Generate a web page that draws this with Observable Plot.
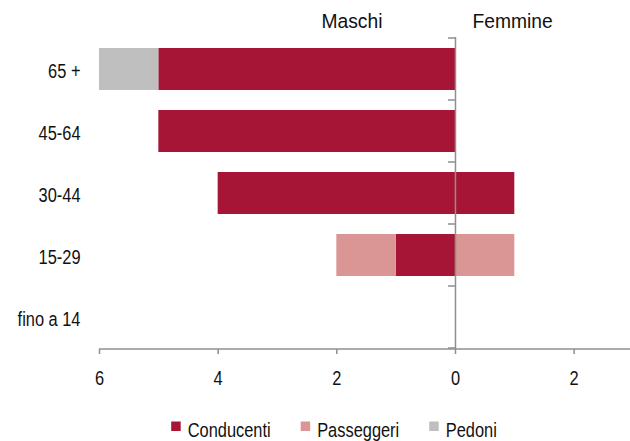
<!DOCTYPE html>
<html><head><meta charset="utf-8">
<script src="https://cdn.jsdelivr.net/npm/d3@7"></script>
<script src="https://cdn.jsdelivr.net/npm/@observablehq/plot@0.6"></script>
<style>
body{margin:0;background:#fff;font-family:"Liberation Sans",Arial,sans-serif;color:#111;}
svg{display:block;}
</style></head><body><div id="chart"></div><div id="legend"></div>
<script>
const categorie = ["65 +", "45-64", "30-44", "15-29", "fino a 14"];
const tipi = ["Conducenti", "Passeggeri", "Pedoni"];
const colori = ["#A61535", "#DA9694", "#BFBFBF"];
const maschiConducenti = [5, 5, 4, 1, 0];
const maschiPasseggeri = [0, 0, 0, 1, 0];
const maschiPedoni = [1, 0, 0, 0, 0];
const femmineConducenti = [0, 0, 1, 0, 0];
const femminePasseggeri = [0, 0, 0, 1, 0];
const femminePedoni = [0, 0, 0, 0, 0];
const xTicks = [-6, -4, -2, 0, 2];
const intestazioni = ["Maschi", "Femmine"];

const maschi = [maschiConducenti, maschiPasseggeri, maschiPedoni];
const femmine = [femmineConducenti, femminePasseggeri, femminePedoni];
const rows = [];
categorie.forEach((c, i) => {
  tipi.forEach((t, j) => {
    rows.push({eta: c, sesso: "Maschi", tipo: t, v: -maschi[j][i]});
    rows.push({eta: c, sesso: "Femmine", tipo: t, v: femmine[j][i]});
  });
});

const gray = "#8f8f8f";
const FS = 20.5;
const SQUEEZE = 0.8;
const HEAD_SQUEEZE = 0.94;
const font = '"Liberation Sans",Arial,sans-serif';

const chart = Plot.plot({
  width: 630, height: 400,
  marginLeft: 99, marginRight: 0, marginTop: 37, marginBottom: 51,
  style: {fontFamily: font, fontSize: FS + "px", color: "#111", background: "#fff"},
  x: {domain: [-6, 2.95]},
  y: {domain: categorie, paddingInner: 0.33, paddingOuter: 0.165},
  color: {domain: tipi, range: colori},
  marks: [
    Plot.barX(rows, Plot.stackX({y: "eta", x: "v", fill: "tipo", order: tipi})),
    Plot.ruleX([0], {stroke: gray, strokeWidth: 1.5}),
    Plot.axisX({ticks: xTicks, tickFormat: d => Math.abs(d), tickSize: 5, tickPadding: 16, stroke: gray, strokeWidth: 1.5, fill: "#111", label: null, fontSize: FS}),
    Plot.axisY({tickSize: 0, tickPadding: 19, label: null, fill: "#111", fontSize: FS, dy: 2}),
    Plot.text([intestazioni[0]], {x: () => 0, frameAnchor: "top", dy: -24, dx: -73, textAnchor: "end", fontSize: FS, fill: "#111", className: "head"}),
    Plot.text([intestazioni[1]], {x: () => 0, frameAnchor: "top", dy: -24, dx: 17, textAnchor: "start", fontSize: FS, fill: "#111", className: "head"})
  ]
});

const sx = chart.scale("x"), sy = chart.scale("y");
const svg = d3.select(chart);
const y1 = sy.range[1];
svg.append("line")
  .attr("x1", sx.apply(sx.domain[0])).attr("x2", sx.apply(sx.domain[1]))
  .attr("y1", y1).attr("y2", y1)
  .attr("stroke", gray).attr("stroke-width", 1.5);
const gap = (sy.step - sy.bandwidth) / 2;
const bounds = categorie.map(c => sy.apply(c) - gap);
bounds.push(sy.apply(categorie[categorie.length - 1]) + sy.bandwidth + gap);
const x0 = sx.apply(0);
bounds.forEach(b => {
  svg.append("line").attr("x1", x0 - 7).attr("x2", x0).attr("y1", b).attr("y2", b)
    .attr("stroke", gray).attr("stroke-width", 1.5);
});
document.getElementById("chart").appendChild(chart);

function squeezeEl(el, k) {
  const L = el.getComputedTextLength();
  if (L > 0) { el.setAttribute("textLength", L * k); el.setAttribute("lengthAdjust", "spacingAndGlyphs"); }
}
function squeeze(root) {
  root.querySelectorAll("text").forEach(t => {
    const k = t.closest(".head") ? HEAD_SQUEEZE : SQUEEZE;
    const spans = t.querySelectorAll("tspan");
    if (spans.length) spans.forEach(s => squeezeEl(s, k));
    else squeezeEl(t, k);
  });
}
squeeze(chart);

// legend below the chart
const leg = d3.select("#legend").append("svg").attr("width", 630).attr("height", 41)
  .style("font-family", font).style("font-size", FS + "px");
const items = leg.selectAll("g").data(tipi).join("g");
items.append("rect").attr("width", 9.5).attr("height", 9.5).attr("y", 21.5).attr("fill", (d, i) => colori[i]);
items.append("text").attr("x", 16.5).attr("y", 36.5).attr("fill", "#111").text(d => d);
let widths = [];
items.each(function () {
  const t = this.querySelector("text");
  widths.push(16.5 + t.getComputedTextLength() * SQUEEZE);
});
squeeze(leg.node());
const itemGap = 30;
const total = d3.sum(widths) + itemGap * (widths.length - 1);
let cx = 334 - total / 2;
items.each(function (d, i) {
  d3.select(this).attr("transform", `translate(${cx},0)`);
  cx += widths[i] + itemGap;
});
</script></body></html>
